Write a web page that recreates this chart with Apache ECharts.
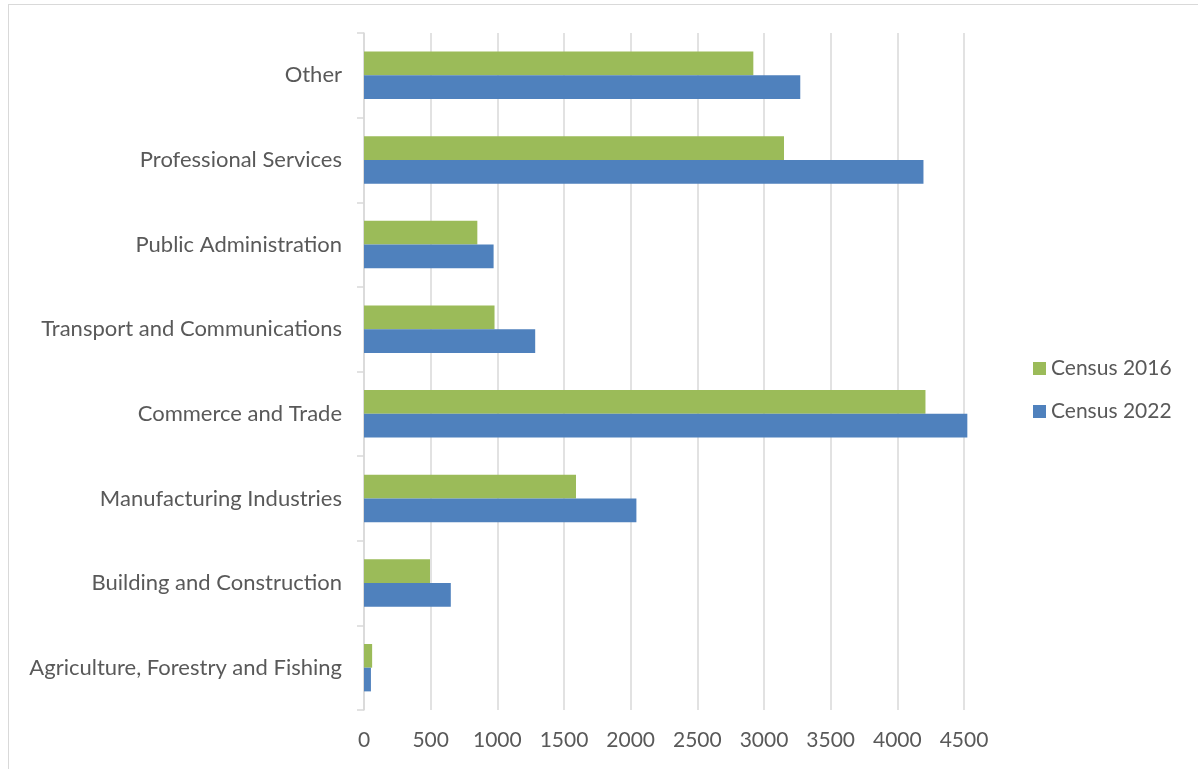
<!DOCTYPE html>
<html><head><meta charset="utf-8">
<script src="https://cdn.jsdelivr.net/npm/echarts@6/dist/echarts.min.js"></script>
<style>
html,body{margin:0;padding:0;background:#fff;overflow:hidden;}
#frame{position:absolute;left:8px;top:4px;width:1300px;height:900px;border:1px solid #d9d9d9;box-sizing:border-box;}
#chart{position:absolute;left:0;top:0;width:1198px;height:769px;}
</style></head>
<body><div id="frame"></div><div id="chart"></div>
<script>
const categories = ["Agriculture, Forestry and Fishing","Building and Construction","Manufacturing Industries","Commerce and Trade","Transport and Communications","Public Administration","Professional Services","Other"];
const census2016 = [61, 495, 1590, 4211, 979, 850, 3150, 2920];
const census2022 = [52, 651, 2043, 4525, 1284, 972, 4196, 3272];
const xTicks = {min: 0, max: 4500, interval: 500};

const FONT = "Lato";
const chart = echarts.init(document.getElementById('chart'));
chart.setOption({
  animation: false,
  textStyle: {fontFamily: FONT},
  grid: {left: 364, right: 234, top: 33, bottom: 59, containLabel: false},
  legend: {
    orient: 'vertical', left: 1028, top: 353, itemGap: 22,
    itemWidth: 13, itemHeight: 13, icon: 'rect',
    data: ['Census 2016', 'Census 2022'],
    textStyle: {color: '#595959', fontSize: 21, fontFamily: FONT}
  },
  xAxis: {
    type: 'value', min: xTicks.min, max: xTicks.max, interval: xTicks.interval,
    axisLine: {show: false}, axisTick: {show: false},
    splitLine: {lineStyle: {color: '#d9d9d9', width: 1.5}},
    axisLabel: {color: '#595959', fontSize: 21, margin: 20, fontFamily: FONT, formatter: v => String(v)}
  },
  yAxis: {
    type: 'category', data: categories,
    axisLine: {lineStyle: {color: '#d9d9d9', width: 1.5}},
    axisTick: {show: true, length: 7, lineStyle: {color: '#d9d9d9', width: 1.5}},
    axisLabel: {color: '#595959', fontSize: 22, margin: 22, fontFamily: FONT},
    splitLine: {show: false}
  },
  series: [
    {name: 'Census 2016', type: 'bar', data: census2016, clip: false, itemStyle: {color: '#9BBB59'}, barGap: '0%', barCategoryGap: '44%'},
    {name: 'Census 2022', type: 'bar', data: census2022, clip: false, itemStyle: {color: '#4F81BD'}, barGap: '0%', barCategoryGap: '44%'}
  ]
});
</script></body></html>
